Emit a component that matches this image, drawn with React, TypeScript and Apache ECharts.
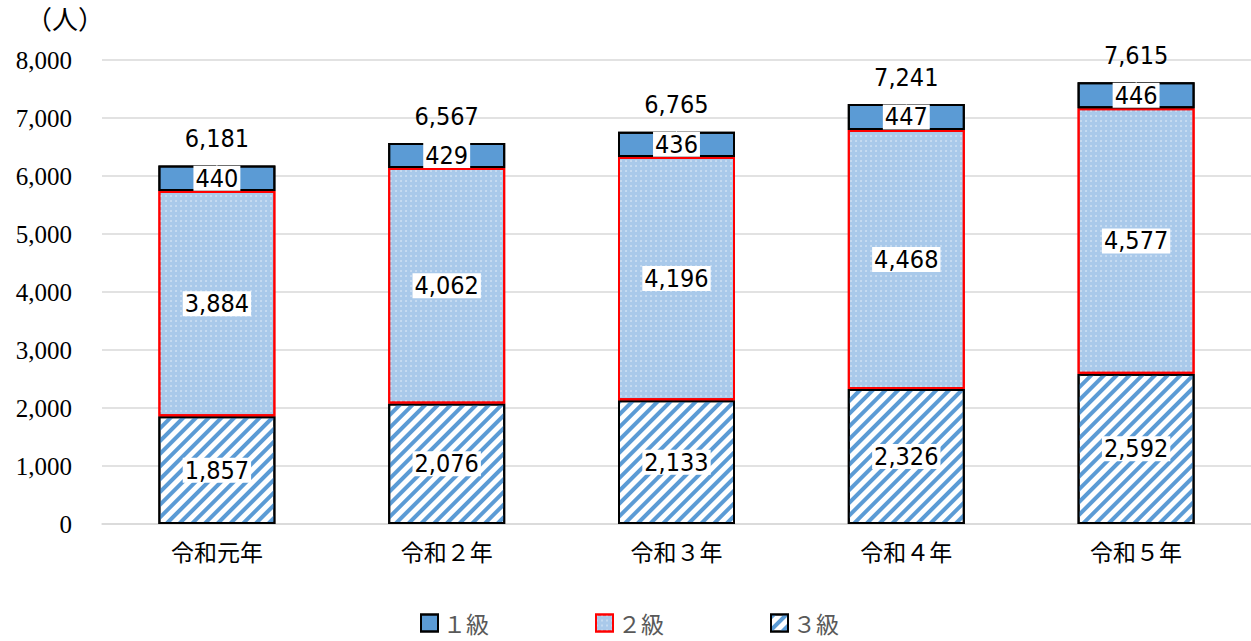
import React, { useEffect, useRef } from "react";
import * as echarts from "echarts";

const categories = ["令和元年", "令和２年", "令和３年", "令和４年", "令和５年"];
const grade1 = [440, 429, 436, 447, 446];
const grade2 = [3884, 4062, 4196, 4468, 4577];
const grade3 = [1857, 2076, 2133, 2326, 2592];
const totals = [6181, 6567, 6765, 7241, 7615];
const seriesNames = ["１級", "２級", "３級"];

const numFont = "Liberation Sans Narrow, DejaVu Sans Condensed, Noto Sans CJK JP, sans-serif";
const fmt = (v: number) => v.toLocaleString("en-US");

export default function App() {
  const ref = useRef<HTMLDivElement>(null);
  useEffect(() => {
    document.body.style.margin = "0";
    document.body.style.overflow = "hidden";
    const chart = echarts.init(ref.current!, undefined, { renderer: "svg" });
    const innerLabel = {
      show: true,
      position: "inside",
      color: "#000",
      fontFamily: numFont,
      fontSize: 25,
      backgroundColor: "#fff",
      padding: [0, 2],
      formatter: (p: any) => fmt(p.value),
    };
    chart.setOption({
      animation: false,
      aria: { enabled: true, decal: { show: true } },
      grid: { left: 102, right: -9, top: 60, bottom: 117, containLabel: false },
      legend: {
        data: seriesNames,
        left: 420,
        top: 611,
        itemWidth: 17,
        itemHeight: 17,
        itemGap: 106,
        padding: 0,
        icon: "rect",
        textStyle: { fontSize: 23, lineHeight: 24, color: "#595959", fontFamily: "Noto Sans CJK JP, sans-serif" },
      },
      graphic: [
        {
          type: "text",
          left: 26,
          top: 4,
          style: { text: "（人）", fontSize: 26, fill: "#000", fontFamily: "Noto Sans CJK JP, serif" },
        },
      ],
      xAxis: {
        type: "category",
        data: categories,
        axisLine: { lineStyle: { color: "#d9d9d9", width: 1.5 } },
        axisTick: { show: false },
        axisLabel: { color: "#000", fontSize: 23, margin: 15, fontFamily: "Noto Sans CJK JP, sans-serif" },
      },
      yAxis: {
        type: "value",
        min: 0,
        max: 8000,
        interval: 1000,
        axisLine: { show: false },
        axisTick: { show: false },
        splitLine: { lineStyle: { color: "#d9d9d9", width: 1.5 } },
        axisLabel: {
          color: "#000",
          fontSize: 25,
          margin: 30,
          fontFamily: "Liberation Serif, DejaVu Serif, serif",
          formatter: (v: number) => fmt(v),
        },
      },
      series: [
        {
          name: seriesNames[2],
          type: "bar",
          stack: "total",
          barWidth: 117,
          data: grade3,
          itemStyle: {
            color: "#ffffff",
            borderColor: "#000",
            borderWidth: 2,
            decal: {
              symbol: "rect",
              symbolSize: 1,
              color: "#5b9bd5",
              dashArrayX: [1, 0],
              dashArrayY: [4, 5],
              rotation: -Math.PI / 4,
            },
          },
          label: innerLabel,
        },
        {
          name: seriesNames[1],
          type: "bar",
          stack: "total",
          data: grade2,
          itemStyle: {
            color: "#a9c9ea",
            borderColor: "#ff0000",
            borderWidth: 2,
            decal: {
              symbol: "circle",
              symbolSize: 0.7,
              color: "rgba(255,255,255,0.8)",
              dashArrayX: [[2, 3]],
              dashArrayY: [2, 3],
              rotation: 0,
            },
          },
          label: innerLabel,
        },
        {
          name: seriesNames[0],
          type: "bar",
          stack: "total",
          data: grade1,
          itemStyle: {
            color: "#5b9bd5",
            borderColor: "#000",
            borderWidth: 2,
            decal: { symbol: "none" },
          },
          label: innerLabel,
        },
        {
          name: "合計",
          type: "scatter",
          data: totals,
          symbolSize: 1,
          silent: true,
          itemStyle: { color: "#ffffff", opacity: 1 },
          label: {
            show: true,
            position: "top",
            distance: 14,
            color: "#000000",
            opacity: 1,
            fontFamily: numFont,
            fontSize: 25,
            formatter: (p: any) => fmt(p.value),
          },
        },
      ],
    });
    return () => chart.dispose();
  }, []);
  return <div ref={ref} style={{ width: 1251, height: 641 }} />;
}
